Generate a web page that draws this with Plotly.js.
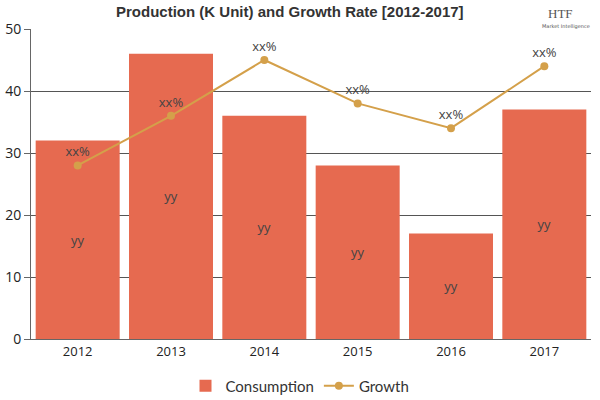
<!DOCTYPE html>
<html>
<head>
<meta charset="utf-8">
<script src="https://cdn.plot.ly/plotly-3.0.1.min.js"></script>
<style>
  html, body { margin: 0; padding: 0; background: #fff; }
  #chart { width: 600px; height: 400px; }
</style>
</head>
<body>
<div id="chart"></div>
<script>
// Yearly production figures and growth rate
const years = ['2012', '2013', '2014', '2015', '2016', '2017'];
const consumption = [32, 46, 36, 28, 17, 37];
const growth = [28, 36, 45, 38, 34, 44];
const barLabels = ['yy', 'yy', 'yy', 'yy', 'yy', 'yy'];
const pointLabels = ['xx%', 'xx%', 'xx%', 'xx%', 'xx%', 'xx%'];

const barTrace = {
  type: 'bar',
  name: 'Consumption',
  x: years,
  y: consumption,
  text: barLabels,
  textposition: 'inside',
  insidetextanchor: 'middle',
  textfont: { family: 'Open Sans, sans-serif', size: 13, color: '#444' },
  marker: { color: '#E66A50' },
  hoverinfo: 'x+y'
};

const lineTrace = {
  type: 'scatter',
  mode: 'lines+markers+text',
  name: 'Growth',
  x: years,
  y: growth,
  text: pointLabels,
  textposition: 'top center',
  textfont: { family: 'Open Sans, sans-serif', size: 13, color: '#444' },
  line: { color: '#D4A04A', width: 2 },
  marker: { color: '#D4A04A', size: 8 }
};

const layout = {
  width: 600,
  height: 400,
  margin: { l: 31, r: 9, t: 29, b: 61 },
  paper_bgcolor: '#fff',
  plot_bgcolor: '#fff',
  bargap: 0.1,
  showlegend: true,
  legend: {
    orientation: 'h',
    xref: 'container', yref: 'container',
    x: 0.5, xanchor: 'center',
    y: 0.035, yanchor: 'middle',
    font: { family: 'Lato, sans-serif', size: 15, color: '#333' },
    traceorder: 'normal',
    itemwidth: 30
  },
  title: {
    text: '<b>Production (K Unit) and Growth Rate [2012-2017]</b>',
    font: { family: 'Liberation Sans Narrow, sans-serif', size: 15, color: '#333' },
    x: 0.483, xanchor: 'center',
    y: 0.985, yanchor: 'top'
  },
  xaxis: {
    type: 'category',
    showline: true,
    linecolor: '#666',
    linewidth: 1,
    ticks: '',
    tickfont: { family: 'Open Sans, sans-serif', size: 13, color: '#222' },
    showgrid: false
  },
  yaxis: {
    range: [0, 50],
    dtick: 10,
    showline: true,
    linecolor: '#666',
    ticks: 'outside',
    ticklen: 6,
    tickcolor: '#666',
    gridcolor: '#555',
    gridwidth: 1,
    zeroline: false,
    tickfont: { family: 'Open Sans, sans-serif', size: 14, color: '#222' }
  },
  annotations: [
    {
      xref: 'paper', yref: 'paper', x: 0.945, y: 1.08,
      xanchor: 'center', yanchor: 'top', showarrow: false,
      text: 'HTF', font: { family: 'Liberation Serif, serif', size: 13, color: '#555' }
    },
    {
      xref: 'paper', yref: 'paper', x: 0.955, y: 1.008,
      xanchor: 'center', yanchor: 'middle', showarrow: false,
      text: 'Market Intelligence', font: { family: 'DejaVu Sans, sans-serif', size: 5, color: '#555' }
    }
  ]
};

Plotly.newPlot('chart', [barTrace, lineTrace], layout, { displayModeBar: false, staticPlot: true });
</script>
</body>
</html>
